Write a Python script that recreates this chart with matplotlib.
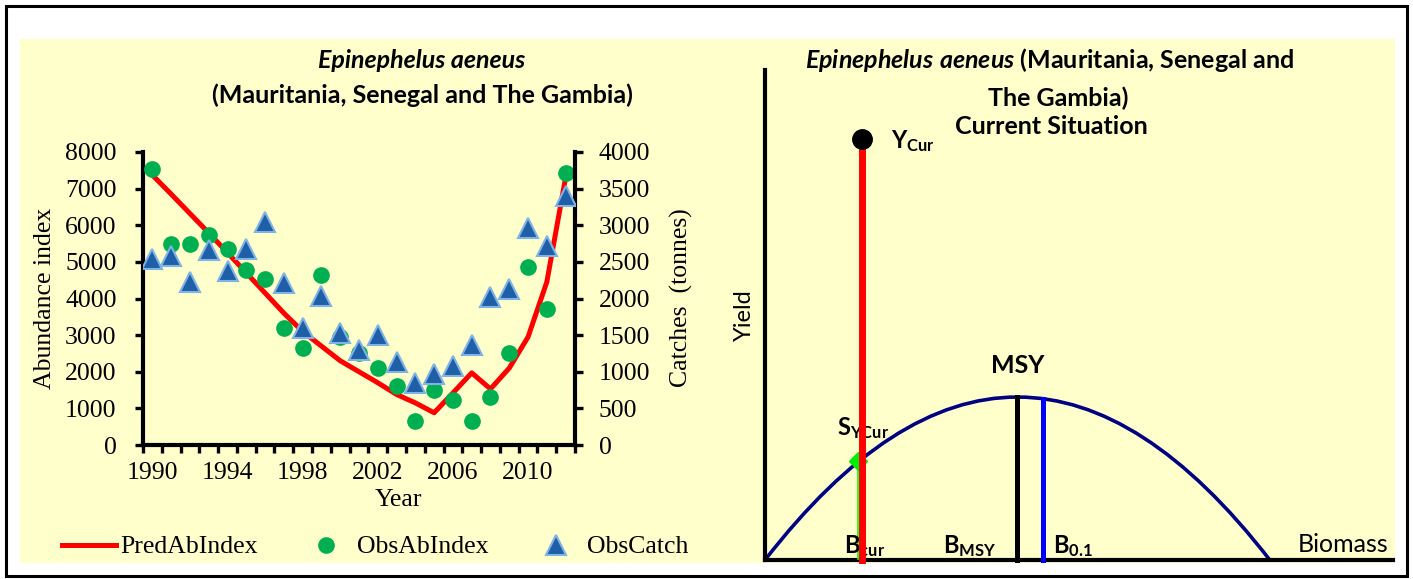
import matplotlib.pyplot as plt
from matplotlib.patches import Rectangle, PathPatch
from matplotlib.path import Path
from matplotlib.lines import Line2D
from matplotlib.ticker import FixedLocator

# Левый график: индекс обилия и уловы
years = list(range(1990, 2013))
pred_ab_index = [7370, 6850, 6320, 5790, 5250, 4700, 4150, 3600, 3100, 2700, 2300,
                 2000, 1700, 1380, 1150, 880, 1420, 1970, 1530, 2100, 2950, 4450, 7300]
obs_ab_index = [7530, 5480, 5480, 5730, 5350, 4780, 4530, 3200, 2650, 4650, 2950,
                2500, 2100, 1600, 650, 1500, 1230, 650, 1300, 2500, 4850, 3700, 7420]
obs_catch = [2540, 2580, 2220, 2660, 2380, 2670, 3040, 2210, 1600, 2030, 1530,
             1300, 1500, 1130, 850, 970, 1080, 1370, 2020, 2130, 2960, 2720, 3400]
legend_labels = ['PredAbIndex', 'ObsAbIndex', 'ObsCatch']

# Правый график: схема текущей ситуации (условные единицы)
k_biomass = 100
b_msy = 50
msy = 100
b_01 = 55
b_01_top = 99
b_cur = 19.2
y_cur = 258
s_ycur_b = 18.4
s_ycur = 61

W, H = 1413, 579


def fx(x):
    return x / W


def fy(y):
    return 1 - y / H


plt.rcParams['font.family'] = 'Liberation Serif'
plt.rcParams['font.size'] = 18.5
plt.rcParams['mathtext.fontset'] = 'custom'
plt.rcParams['mathtext.rm'] = 'Lato'
plt.rcParams['mathtext.bf'] = 'Lato:bold'
plt.rcParams['mathtext.it'] = 'Lato:italic:bold'

fig = plt.figure(figsize=(W / 100, H / 100), dpi=100)
fig.patch.set_facecolor('white')
fig.add_artist(Rectangle((fx(20), fy(563)), fx(1395) - fx(20), fy(39) - fy(563),
                         transform=fig.transFigure, fc='#FFFFCC', ec='none', zorder=-1))
fig.add_artist(Rectangle((fx(6), fy(576)), fx(1407) - fx(6), fy(6) - fy(576),
                         transform=fig.transFigure, fill=False, ec='black', lw=2.2, zorder=5))

# ---- левый график ----
ax = fig.add_axes([fx(143), fy(445), fx(575) - fx(143), fy(152) - fy(445)])
ax.patch.set_visible(False)
ax.plot(years, pred_ab_index, color='#FF0000', lw=3.6, zorder=2)
ax.plot(years, obs_ab_index, 'o', color='#00B050', ms=11, zorder=3)
ax.set_xlim(1989.5, 2012.5)
ax.set_ylim(0, 8000)
ax.set_yticks(range(0, 8001, 1000))
ax.set_xticks(range(1990, 2011, 4))
ax.xaxis.set_minor_locator(FixedLocator([y - 0.5 for y in years] + [2012.5]))
ax.tick_params(axis='x', which='major', length=0, pad=12)
ax.tick_params(axis='x', which='minor', length=6, width=2.4, direction='out')
ax.tick_params(axis='y', length=6, width=2.4, pad=13)
ax.spines['top'].set_visible(False)
ax.spines['right'].set_visible(False)
ax.spines['left'].set_linewidth(3)
ax.spines['bottom'].set_linewidth(3)

ax2 = ax.twinx()
ax2.plot(years, obs_catch, '^', ms=14, mfc='#1F5FA8', mec='#7FB2E5', mew=1.5, zorder=4)
ax2.set_ylim(0, 4000)
ax2.set_yticks(range(0, 4001, 500))
ax2.tick_params(axis='y', length=6, width=2.4, pad=11)
for s in ['top', 'left', 'bottom']:
    ax2.spines[s].set_visible(False)
ax2.spines['right'].set_linewidth(3)

fig.text(fx(45), fy(298), 'Abundance index', rotation=90, ha='center', va='center')
fig.text(fx(681), fy(298), 'Catches  (tonnes)', rotation=90, ha='center', va='center')
fig.text(fx(398), fy(500), 'Year', ha='center', va='center')

fig.text(fx(422), fy(60), 'Epinephelus aeneus', family='Lato', fontweight='bold',
         fontstyle='italic', fontsize=18, ha='center', va='center')
fig.text(fx(422), fy(95), '(Mauritania, Senegal and The Gambia)', family='Lato',
         fontweight='bold', fontsize=18, ha='center', va='center')

handles = [Line2D([], [], color='#FF0000', lw=3.6),
           Line2D([], [], ls='', marker='o', color='#00B050', ms=11),
           Line2D([], [], ls='', marker='^', ms=14, mfc='#1F5FA8', mec='#7FB2E5', mew=1.5)]
fig.legend(handles, legend_labels, loc='center left', bbox_to_anchor=(fx(62), fy(547)),
           ncol=3, frameon=False, borderpad=0, borderaxespad=0, handlelength=2.1,
           handletextpad=0.16, columnspacing=1.6, numpoints=1)

# ---- правый график ----
axr = fig.add_axes([fx(765), fy(560), fx(1393) - fx(765), fy(70) - fy(560)])
axr.patch.set_visible(False)
axr.set_xlim(0, 124.4)
axr.set_ylim(0, 300.6)
axr.set_xticks([])
axr.set_yticks([])
axr.spines['top'].set_visible(False)
axr.spines['right'].set_visible(False)
axr.spines['left'].set_linewidth(3)
axr.spines['bottom'].set_linewidth(3)

curve = Path([(0, 0), (b_msy, 2 * msy), (k_biomass, 0)],
             [Path.MOVETO, Path.CURVE3, Path.CURVE3])
axr.add_patch(PathPatch(curve, fill=False, ec='#000080', lw=2.6, clip_on=False, zorder=2))
axr.plot([s_ycur_b, s_ycur_b], [0, s_ycur], color='#00FF00', lw=1.2, zorder=3)
axr.plot([s_ycur_b], [s_ycur], 'D', color='#00EE00', ms=9, zorder=3)
axr.plot([b_cur, b_cur], [0, y_cur], color='#FF0000', lw=5, zorder=4, clip_on=False)
axr.plot([b_msy, b_msy], [0, msy], color='black', lw=3.6, zorder=4, clip_on=False)
axr.plot([b_01, b_01], [0, b_01_top], color='#0000FF', lw=3.6, zorder=4, clip_on=False)
axr.plot([b_cur], [y_cur], 'o', color='black', ms=14, zorder=5)

lato = dict(family='Lato', fontsize=17)
axr.text(b_msy, 119.6, 'MSY', fontweight='bold', ha='center', va='center', family='Lato', fontsize=18)
axr.text(14.3, 76.7, r'$\mathbf{S_{YCur}}$', ha='left', va='baseline', **lato)
axr.text(25, 252.8, r'$\mathbf{Y_{Cur}}$', ha='left', va='baseline', **lato)
axr.text(15.6, 4.3, r'$\mathbf{B_{cur}}$', ha='left', va='baseline', **lato)
axr.text(35.2, 4.3, r'$\mathbf{B_{MSY}}$', ha='left', va='baseline', **lato)
axr.text(57.0, 4.3, r'$\mathbf{B_{0.1}}$', ha='left', va='baseline', **lato)
axr.text(123.6, 4.9, 'Biomass', ha='right', va='baseline', family='Lato', fontsize=18)
axr.text(-4, 150.3, 'Yield', rotation=90, ha='center', va='center', family='Lato', fontsize=17)

fig.text(fx(1049), fy(60), r'$\mathit{Epinephelus\ aeneus}$ (Mauritania, Senegal and',
         family='Lato', fontweight='bold', fontsize=18, ha='center', va='center')
fig.text(fx(1058), fy(98), 'The Gambia)', family='Lato', fontweight='bold', fontsize=18,
         ha='center', va='center')
fig.text(fx(1051), fy(127), 'Current Situation', family='Lato', fontweight='bold',
         fontsize=18, ha='center', va='center')

fig.savefig('out.png', dpi=100)
